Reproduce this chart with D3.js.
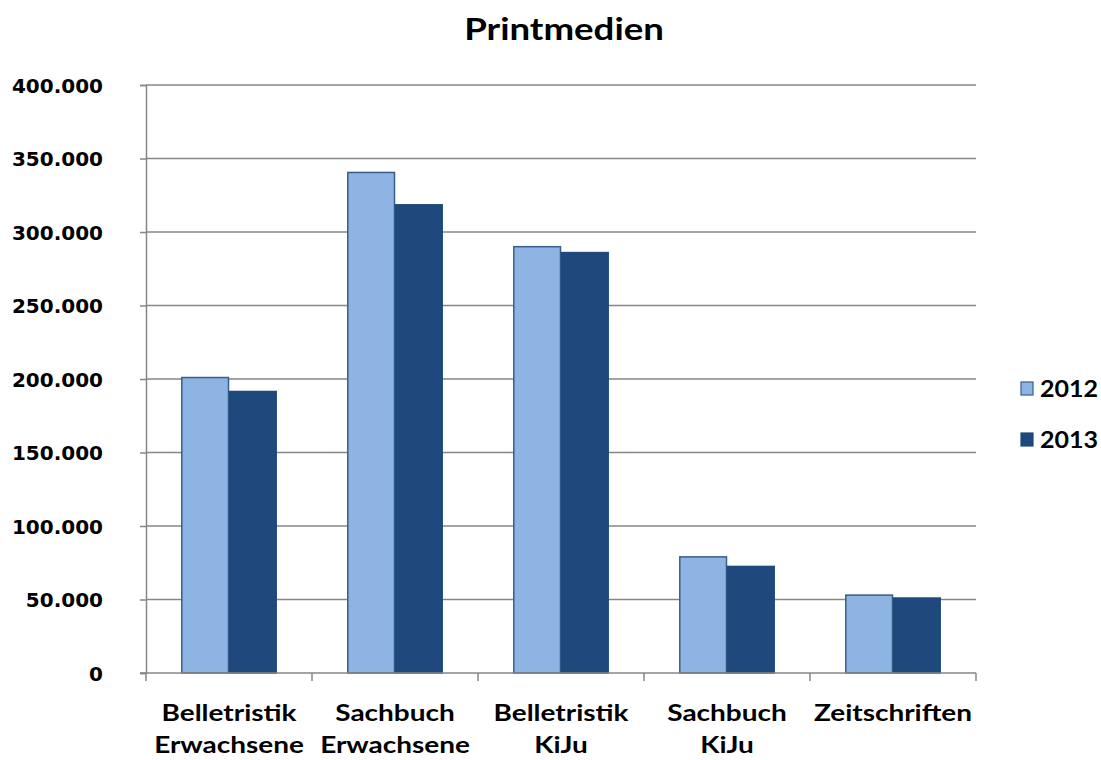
<!DOCTYPE html>
<html>
<head>
<meta charset="utf-8">
<script src="https://cdn.jsdelivr.net/npm/d3@7"></script>
<style>
  body { margin: 0; background: #fff; }
  svg { display: block; }
</style>
</head>
<body>
<svg id="chart" width="1101" height="760"></svg>
<script>
// categories, two-line labels
var categories = ["Belletristik Erwachsene", "Sachbuch Erwachsene", "Belletristik KiJu", "Sachbuch KiJu", "Zeitschriften"];
var labelLines = [["Belletristik", "Erwachsene"], ["Sachbuch", "Erwachsene"], ["Belletristik", "KiJu"], ["Sachbuch", "KiJu"], ["Zeitschriften"]];
var years = ["2012", "2013"];
var values2012 = [201000, 340500, 290000, 79000, 53000];
var values2013 = [191500, 318500, 286000, 72500, 51000];
var yTicks = [0, 50000, 100000, 150000, 200000, 250000, 300000, 350000, 400000];

var fills = { "2012": "#8eb4e3", "2013": "#1f497d" };
var strokes = { "2012": "#385d8a", "2013": "#1f497d" };

var svg = d3.select('#chart');
var mLeft = 146, mRight = 976, mTop = 85, mBottom = 673;

var x = d3.scaleBand().domain(categories).range([mLeft, mRight]).paddingInner(0).paddingOuter(0);
var inner = d3.scaleBand().domain(years).range([0, x.bandwidth()]).paddingInner(0).paddingOuter(0.74);
var y = d3.scaleLinear().domain([0, 400000]).range([mBottom, mTop]);

var fmt = function(v) { return v === 0 ? "0" : d3.format(",")(v).replace(/,/g, "."); };

// gridlines
svg.append('g').selectAll('line').data(yTicks.filter(function(d) { return d > 0; })).enter().append('line')
  .attr('x1', mLeft).attr('x2', mRight)
  .attr('y1', function(d) { return y(d); }).attr('y2', function(d) { return y(d); })
  .attr('stroke', '#868686').attr('stroke-width', 1.5);

// bars
var series = [{ key: "2012", vals: values2012 }, { key: "2013", vals: values2013 }];
series.forEach(function(s) {
  svg.append('g').selectAll('rect').data(s.vals).enter().append('rect')
    .attr('x', function(d, i) { return x(categories[i]) + inner(s.key) + 0.5; })
    .attr('y', function(d) { return y(d); })
    .attr('width', inner.bandwidth() - 1)
    .attr('height', function(d) { return mBottom - y(d); })
    .attr('fill', fills[s.key])
    .attr('stroke', strokes[s.key]).attr('stroke-width', 1.5);
});

// y axis
var yAxis = d3.axisLeft(y).tickValues(yTicks).tickFormat(fmt).tickSize(6).tickPadding(0);
var ya = svg.append('g').attr('transform', 'translate(' + mLeft + ',0)').call(yAxis);
ya.select('.domain').attr('stroke', '#868686').attr('stroke-width', 1.5);
ya.selectAll('.tick line').attr('stroke', '#868686').attr('stroke-width', 1.5);
ya.selectAll('text').attr('x', -43).attr('dy', '0.36em')
  .attr('font-family', 'DejaVu Sans').attr('font-weight', 'bold').attr('font-size', 20).attr('fill', '#000');

// x axis
var xa = svg.append('g').attr('transform', 'translate(0,' + mBottom + ')');
xa.append('line').attr('x1', mLeft - 6).attr('x2', mRight).attr('y1', 0).attr('y2', 0)
  .attr('stroke', '#868686').attr('stroke-width', 1.5);
var edges = categories.map(function(c) { return x(c); }).concat([mRight]);
xa.selectAll('line.tk').data(edges).enter().append('line').attr('class', 'tk')
  .attr('x1', function(d) { return d; }).attr('x2', function(d) { return d; })
  .attr('y1', 0).attr('y2', 8).attr('stroke', '#868686').attr('stroke-width', 1.5);
// labels are widened a bit: the reference font is broader than Lato
var lbl = xa.selectAll('g.cat').data(categories).enter().append('g').attr('class', 'cat')
  .attr('transform', function(d) { return 'translate(' + (x(d) + x.bandwidth() / 2) + ',0) scale(1.19,1)'; });
lbl.each(function(d, i) {
  var t = d3.select(this).append('text').attr('text-anchor', 'middle')
    .attr('font-family', 'Lato, sans-serif').attr('font-weight', 'bold').attr('font-size', 23.5);
  labelLines[i].forEach(function(line, j) {
    t.append('tspan').attr('x', 0).attr('y', 48 + j * 32).text(line);
  });
});

// title
svg.append('g').attr('transform', 'translate(564,40) scale(1.22,1)')
  .append('text').attr('text-anchor', 'middle')
  .attr('font-family', 'Lato, sans-serif').attr('font-weight', 'bold').attr('font-size', 30)
  .text('Printmedien');

// legend
var lg = svg.append('g').selectAll('g').data(years).enter().append('g')
  .attr('transform', function(d, i) { return 'translate(1021,' + (382 + i * 51) + ')'; });
lg.append('rect').attr('width', 12).attr('height', 13)
  .attr('fill', function(d) { return fills[d]; }).attr('stroke', function(d) { return strokes[d]; }).attr('stroke-width', 1.2);
lg.append('g').attr('transform', 'translate(19,15) scale(1.09,1)')
  .append('text').text(function(d) { return d; })
  .attr('font-family', 'Lato, sans-serif').attr('font-weight', 'bold').attr('font-size', 23);
</script>
</body>
</html>
